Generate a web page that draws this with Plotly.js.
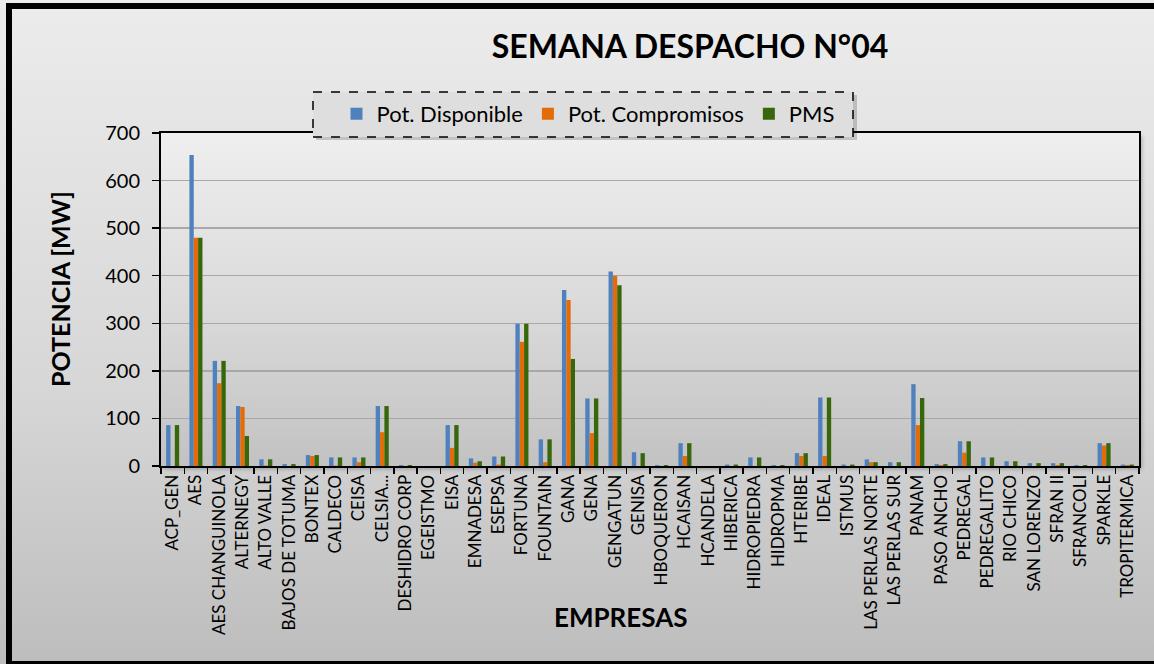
<!DOCTYPE html>
<html>
<head>
<meta charset="utf-8">
<script src="https://cdn.plot.ly/plotly-3.0.1.min.js"></script>
<style>
  html, body { margin: 0; padding: 0; }
  #wrap { position: relative; width: 1154px; height: 664px; overflow: hidden;
          background: linear-gradient(to bottom, #ececec 0%, #d6d6d6 60%, #bdbdbd 100%); }
  #plotbg { position: absolute; left: 161px; top: 133px; width: 978px; height: 333px;
            background: linear-gradient(to bottom, #efefef 0%, #d9d9d9 55%, #c2c2c2 100%);
            box-shadow: 3px 3px 4px rgba(0,0,0,0.25); }
  #chart { position: absolute; left: 0; top: 0; width: 1154px; height: 664px; }
  #frame { position: absolute; left: 6px; top: 3px; right: -20px; bottom: 0px;
           border: 6px solid #000; border-bottom-width: 3px; pointer-events: none; }
</style>
</head>
<body>
<div id="wrap">
  <div id="plotbg"></div>
  <div id="chart"></div>
  <div id="frame"></div>
</div>
<script>
const categories = ["ACP_GEN","AES","AES CHANGUINOLA","ALTERNEGY","ALTO VALLE","BAJOS DE TOTUMA","BONTEX","CALDECO","CEISA","CELSIA...","DESHIDRO CORP","EGEISTMO","EISA","EMNADESA","ESEPSA","FORTUNA","FOUNTAIN","GANA","GENA","GENGATUN","GENISA","HBOQUERON","HCAISAN","HCANDELA","HIBERICA","HIDROPIEDRA","HIDROPMA","HTERIBE","IDEAL","ISTMUS","LAS PERLAS NORTE","LAS PERLAS SUR","PANAM","PASO ANCHO","PEDREGAL","PEDREGALITO","RIO CHICO","SAN LORENZO","SFRAN II","SFRANCOLI","SPARKLE","TROPITERMICA"];
const potDisponible = [86,654,221,126,14,4,23,18,18,126,2,0,86,16,20,299,56,370,142,409,29,2,48,0,3,18,2,27,144,3,14,8,172,4,52,18,10,6,6,2,48,3];
const potCompromisos = [0,480,174,124,1,0,21,1,8,71,0,0,38,7,3,261,8,349,69,400,0,0,21,0,0,0,0,21,21,0,8,0,86,2,28,0,0,0,2,0,43,2];
const pms = [86,480,221,63,14,4,23,18,18,126,2,0,86,10,20,299,56,225,142,380,27,2,48,0,3,18,2,27,144,3,8,8,143,4,52,18,10,6,6,2,48,3];
const seriesNames = ["Pot. Disponible","Pot. Compromisos","PMS"];
const yTicks = [0,100,200,300,400,500,600,700];

const FONT = "Lato, 'Open Sans', sans-serif";
const colors = ["#4f81bd","#e36c09","#38660a"];
const vals = [potDisponible, potCompromisos, pms];

const traces = vals.map((v,i) => ({
  type: "bar", name: seriesNames[i], x: categories, y: v,
  marker: { color: colors[i], line: { width: 0 } }
}));

const L = 161, W = 978, T = 133, H = 333;
const px = x => (x - L) / W;
const py = y => (T + H - y) / H;

const layout = {
  width: 1154, height: 664,
  paper_bgcolor: "rgba(0,0,0,0)", plot_bgcolor: "rgba(0,0,0,0)",
  margin: { l: 161, r: 15, t: 133, b: 198, pad: 0 },
  barmode: "group", bargap: 0.44, bargroupgap: 0,
  font: { family: FONT, color: "#000", size: 14 },
  title: { text: "SEMANA DESPACHO N°04", font: { family: FONT, size: 32, weight: 700, color: "#000" },
           x: 690/1154, xanchor: "center", xref: "container", y: 1 - 47/664, yanchor: "middle", yref: "container" },
  xaxis: {
    type: "category", tickangle: -90, tickfont: { family: FONT, size: 17 },
    showline: true, linecolor: "#000", linewidth: 2, mirror: true,
    ticks: "outside", ticklen: 6, tickcolor: "#000", tickwidth: 1.5, tickson: "boundaries",
    showgrid: false, automargin: false, fixedrange: true
  },
  yaxis: {
    range: [0, 700], tickvals: yTicks, ticktext: yTicks.map(String),
    tickfont: { family: FONT, size: 20 }, ticklabelstandoff: 8,
    showline: true, linecolor: "#000", linewidth: 2, mirror: true,
    ticks: "outside", ticklen: 7, tickcolor: "#000", tickwidth: 1.5,
    gridcolor: "#a8a8a8", gridwidth: 1.5, zeroline: false, automargin: false, fixedrange: true
  },
  showlegend: true,
  legend: {
    orientation: "h", x: px(588), xanchor: "center", y: py(114), yanchor: "middle",
    bgcolor: "rgba(0,0,0,0)", borderwidth: 0, font: { family: FONT, size: 22, color: "#000" },
    traceorder: "normal"
  },
  shapes: [
    { type: "rect", xref: "paper", yref: "paper", layer: "above",
      x0: px(316), x1: px(857), y0: py(140), y1: py(95),
      fillcolor: "rgba(0,0,0,0.18)", line: { width: 0 } },
    { type: "rect", xref: "paper", yref: "paper", layer: "above",
      x0: px(313), x1: px(853), y0: py(137), y1: py(92),
      fillcolor: "#dedede", line: { color: "#000", width: 1.5, dash: "dash" } }
  ],
  annotations: [
    { text: "EMPRESAS", xref: "paper", yref: "paper", x: px(620), y: py(617),
      xanchor: "center", yanchor: "middle", showarrow: false,
      font: { family: FONT, size: 26, weight: 700, color: "#000" } },
    { text: "POTENCIA [MW]", xref: "paper", yref: "paper", x: px(60), y: py(289),
      xanchor: "center", yanchor: "middle", showarrow: false, textangle: -90,
      font: { family: FONT, size: 25, weight: 700, color: "#000" } }
  ]
};

Plotly.newPlot("chart", traces, layout, { displayModeBar: false, staticPlot: true });
</script>
</body>
</html>
